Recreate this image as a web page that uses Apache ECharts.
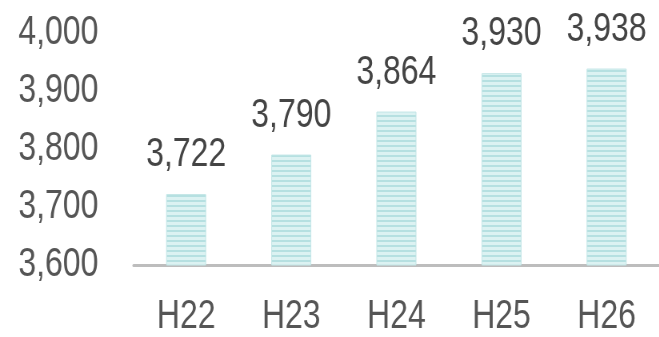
<!DOCTYPE html>
<html><head><meta charset="utf-8">
<script src="https://cdn.jsdelivr.net/npm/echarts@6/dist/echarts.min.js"></script>
<style>html,body{margin:0;padding:0;background:#fff;overflow:hidden;width:659px;height:337px}
#wrap{position:relative;width:659px;height:337px;overflow:hidden}
#c{position:absolute;left:0;top:0;width:824px;height:337px;transform:scaleX(0.8);transform-origin:0 0}</style>
</head><body><div id="wrap"><div id="c"></div></div>
<script>
const categories = ['H22', 'H23', 'H24', 'H25', 'H26'];
const values = [3722, 3790, 3864, 3930, 3938];
const yTicks = [3600, 3700, 3800, 3900, 4000];

const pc = document.createElement('canvas');
pc.width = 4; pc.height = 5;
const g = pc.getContext('2d');
g.fillStyle = '#dcf2f2'; g.fillRect(0, 0, 4, 5);
g.fillStyle = '#b6e0e1'; g.fillRect(0, 0, 4, 2);

const font = '"Liberation Sans", Arial, sans-serif';
const chart = echarts.init(document.getElementById('c'));
chart.setOption({
  animation: false,
  grid: { left: 167, right: -14, top: 32.5, bottom: 67, containLabel: false },
  xAxis: {
    type: 'category', data: categories,
    axisLine: { lineStyle: { color: '#bdbdbd', width: 3 } },
    axisTick: { show: false },
    axisLabel: { color: '#555', fontSize: 40, fontFamily: font, margin: 32 }
  },
  yAxis: {
    type: 'value', min: yTicks[0], max: yTicks[yTicks.length - 1], interval: 100,
    axisLine: { show: false }, axisTick: { show: false }, splitLine: { show: false },
    axisLabel: {
      color: '#555', fontSize: 40, fontFamily: font, margin: 44,
      formatter: v => v.toLocaleString('en-US')
    }
  },
  series: [{
    type: 'bar', data: values, barWidth: 50,
    itemStyle: { color: { image: pc, repeat: 'repeat' }, borderColor: '#c3e6e7', borderWidth: 1 },
    label: {
      show: true, position: 'top', distance: 19, color: '#444', fontSize: 40, fontFamily: font,
      formatter: p => p.value.toLocaleString('en-US')
    }
  }]
});
</script></body></html>
